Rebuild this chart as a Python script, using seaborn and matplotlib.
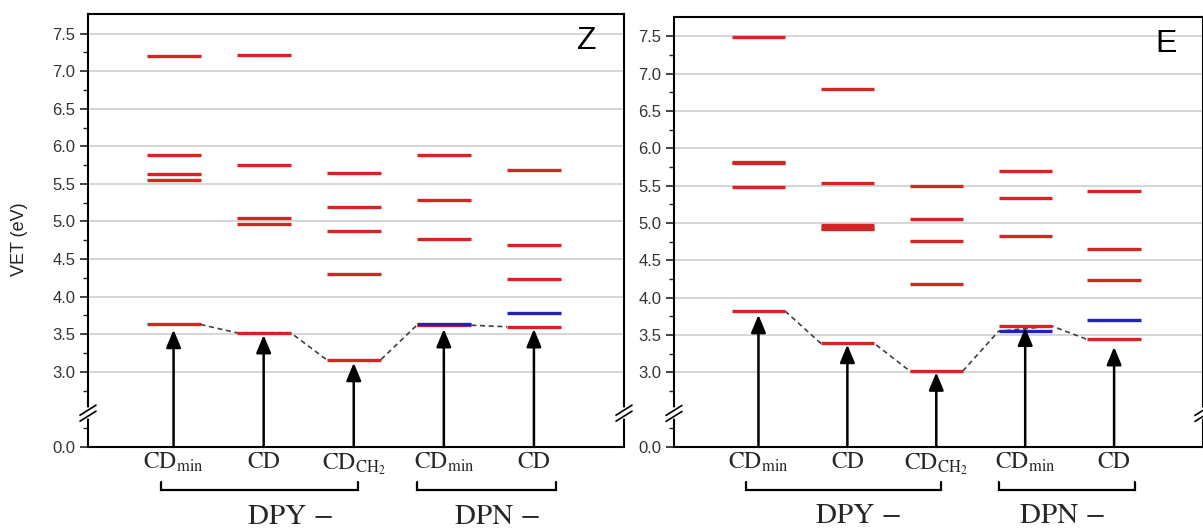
import numpy as np
import pandas as pd
import matplotlib
matplotlib.use("Agg")
import matplotlib.pyplot as plt
from matplotlib.lines import Line2D
from matplotlib.transforms import ScaledTranslation, blended_transform_factory
import seaborn as sns

# ---------------------------------------------------------------- data
categories = [r"CD$_{\mathrm{min}}$", "CD", r"CD$_{\mathrm{CH_2}}$",
              r"CD$_{\mathrm{min}}$", "CD"]
groups = ["DPY \u2212", "DPN \u2212"]
panel_tags = ["Z", "E"]

# excited-state energies (eV) per structure, red = bright / blue = dark states
z_red = [
    [7.20, 5.88, 5.63, 5.55, 3.63],
    [7.21, 5.75, 5.05, 4.97, 3.52],
    [5.64, 5.19, 4.87, 4.30, 3.16],
    [5.89, 5.28, 4.77, 3.62],
    [5.69, 4.69, 4.23, 3.60],
]
z_blue = [[], [], [], [3.64], [3.78]]
z_arrow = [3.56, 3.49, 3.12, 3.57, 3.57]

e_red = [
    [7.49, 5.82, 5.80, 5.48, 3.82],
    [6.80, 5.54, 4.97, 4.94, 4.92, 3.39],
    [5.49, 5.05, 4.76, 4.18, 3.02],
    [5.70, 5.33, 4.82, 3.62],
    [5.43, 4.65, 4.24, 3.44],
]
e_blue = [[], [], [], [3.55], [3.70]]
e_arrow = [3.77, 3.37, 3.00, 3.60, 3.34]

major_ticks = [0.0, 3.0, 3.5, 4.0, 4.5, 5.0, 5.5, 6.0, 6.5, 7.0, 7.5]
minor_ticks = [0.25, 2.75, 3.25, 3.75, 4.25, 4.75, 5.25, 5.75, 6.25, 6.75, 7.25]

# ---------------------------------------------------------------- style
sns.set_style("white")
plt.rcParams["font.family"] = ["Liberation Sans", "DejaVu Sans"]
plt.rcParams["mathtext.fontset"] = "stix"

RED = "#d42424"
BLUE = "#2222b4"
HALF = 0.30          # half width of a level bar (x units)

# broken y axis: the range 0.4 .. 2.5 eV is squeezed into a thin band
_xp = np.array([-10.0, 0.4, 2.5, 100.0])
_fp = np.array([-8.0, 2.4, 2.5, 100.0])


def fwd(v):
    return np.interp(v, _xp, _fp)


def inv(v):
    return np.interp(v, _fp, _xp)


fig = plt.figure(figsize=(12.03, 5.28), dpi=100)
W, H = 1203.0, 528.0
ax_z = fig.add_axes([88 / W, 1 - 447 / H, 536 / W, 433 / H])
ax_e = fig.add_axes([674 / W, 1 - 447 / H, 529 / W, 430 / H])


def break_mark(ax, xfrac):
    yb = float(inv(2.45))
    anchor = ScaledTranslation(
        xfrac, yb, blended_transform_factory(ax.transAxes, ax.transData))
    tr = fig.dpi_scale_trans + anchor
    ax.add_artist(Line2D([0, 0], [-0.03, 0.03], transform=tr, color="white",
                         lw=4, clip_on=False, zorder=6))
    for dy in (-0.03, 0.03):
        ax.add_artist(Line2D([-0.08, 0.08], [dy - 0.05, dy + 0.05],
                             transform=tr, color="black", lw=1.2,
                             clip_on=False, zorder=7))


def draw_panel(ax, red, blue, arrows, tag, grp_x):
    rows = []
    uid = 0
    for kind, series in (("red", red), ("blue", blue)):
        for i, levels in enumerate(series):
            for e in levels:
                for dx in (-HALF, HALF):
                    rows.append({"x": i + dx, "energy": e, "kind": kind, "uid": uid})
                uid += 1
    df = pd.DataFrame(rows)

    ax.set_yscale("function", functions=(fwd, inv))
    ax.set_axisbelow(True)
    ax.grid(axis="y", which="major", color="#cccccc", lw=1.1)
    ax.grid(axis="x", visible=False)

    sns.lineplot(data=df, x="x", y="energy", units="uid", estimator=None,
                 hue="kind", hue_order=["red", "blue"],
                 palette={"red": RED, "blue": BLUE}, lw=2.4, sort=False,
                 legend=False, ax=ax, solid_capstyle="butt", zorder=3)

    # dashed path joining the lowest states
    low_left = [min(r + b) for r, b in zip(red, blue)]
    low_right = [min(r) for r in red]
    px, py = [], []
    for i in range(len(red)):
        px += [i - HALF, i + HALF]
        py += [low_left[i], low_right[i]]
    ax.plot(px[1:-1], py[1:-1], ls=(0, (3, 2.2)), color="#404040", lw=1.2,
            zorder=2)

    # excitation arrows from the ground state
    for i, top in enumerate(arrows):
        ax.annotate("", xy=(i, top), xytext=(i, 0.0),
                    arrowprops=dict(arrowstyle="-|>,head_length=0.6,head_width=0.25",
                                    color="black", lw=1.8, shrinkA=0, shrinkB=0,
                                    mutation_scale=18),
                    annotation_clip=False, zorder=4)

    ax.set_xlim(-0.95, 5.0)
    ax.set_ylim(0.0, 7.76)
    ax.set_yticks(major_ticks)
    ax.set_yticks(minor_ticks, minor=True)
    ax.set_yticklabels([f"{t:.1f}" for t in major_ticks])
    ax.tick_params(axis="y", which="major", direction="out", length=6,
                   width=1.2, color="#222222", labelsize=12,
                   labelcolor="#333333", pad=3, left=True)
    ax.tick_params(axis="y", which="minor", direction="out", length=3.5,
                   width=1.0, color="#222222", left=True)

    ax.set_xticks(range(len(categories)))
    ax.set_xticklabels(categories, fontfamily="STIXGeneral", fontsize=17)
    ax.tick_params(axis="x", length=0, pad=3)
    ax.set_xlabel("")

    for s in ax.spines.values():
        s.set_color("black")
        s.set_linewidth(1.5)

    # group brackets under the structure labels
    tr = ax.get_xaxis_transform()
    for (x0, x1), name, gx in zip([(-0.14, 2.05), (2.70, 4.24)], groups, grp_x):
        ax.plot([x0, x0, x1, x1], [-0.081, -0.099, -0.099, -0.081],
                transform=tr, color="black", lw=1.6, clip_on=False,
                solid_joinstyle="miter")
        ax.text(gx, -0.162, name, transform=tr, ha="center", va="center",
                fontfamily="STIXGeneral", fontsize=21)

    ax.text(0.93, 0.937, tag, transform=ax.transAxes, ha="center",
            va="center", fontsize=23, color="black")

    break_mark(ax, 0.0)
    break_mark(ax, 1.0)


draw_panel(ax_z, z_red, z_blue, z_arrow, panel_tags[0], (1.30, 3.60))
draw_panel(ax_e, e_red, e_blue, e_arrow, panel_tags[1], (1.13, 3.42))

ax_z.set_ylabel("VET (eV)", fontsize=13, color="#222222")
ax_z.yaxis.set_label_coords(-0.112, 0.48)
ax_e.set_ylabel("")

fig.savefig("out.png", dpi=100)
